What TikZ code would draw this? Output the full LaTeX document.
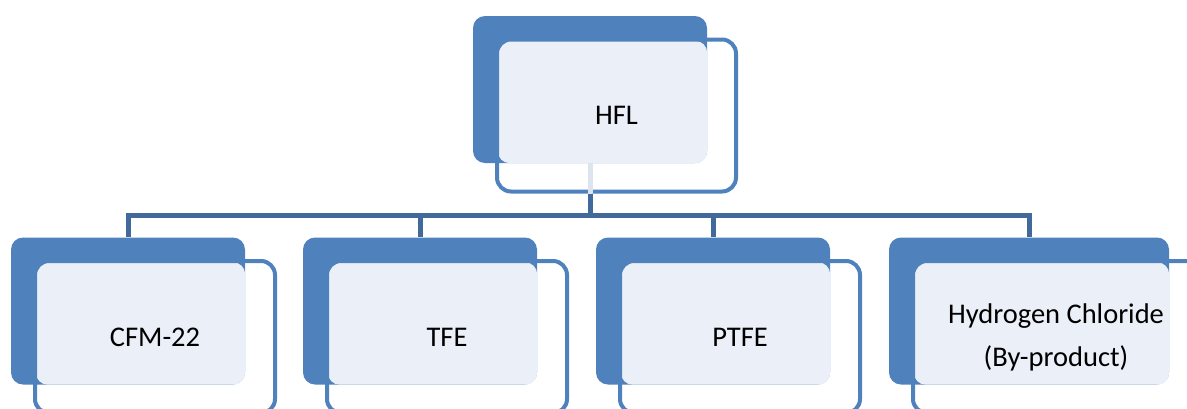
\documentclass[tikz,border=0pt]{standalone}
\usepackage{fontspec}
\setmainfont{Carlito}
\usetikzlibrary{positioning}

\definecolor{backblue}{HTML}{4F81BD}
\definecolor{paleblue}{HTML}{EBF0F8}
\definecolor{linkblue}{HTML}{41699C}
\definecolor{hiddenlink}{HTML}{DCE4EF}

\tikzset{
  backbox/.style={rectangle, rounded corners=12pt, fill=backblue, inner sep=0pt,
    minimum width=234pt, minimum height=147pt},
  frontbox/.style={rectangle, rounded corners=14pt, draw=backblue, line width=4pt,
    inner sep=0pt, minimum width=240pt, minimum height=152pt, align=center,
    font=\fontsize{28.5}{43}\selectfont},
  palefill/.style={fill=paleblue, rounded corners=12pt},
  link/.style={draw=linkblue, line width=5pt},
  hidden link/.style={draw=hiddenlink, line width=5pt},
}

\begin{document}
\begin{tikzpicture}[x=1pt,y=-1pt]
  \useasboundingbox (0,0) rectangle (1187,408);
  \clip (0,0) rectangle (1187,408);

  % Back boxes
  \node[backbox] (hflback) at (590,89.5) {};
  \node[backbox] (cfmback) at (128,311) {};
  \node[backbox] (tfeback) at (420,311) {};
  \node[backbox] (ptfeback) at (713,311) {};
  \node[backbox, minimum width=280pt] (hclback) at (1029,311) {};

  % Pale part where the boxes overlap
  \foreach \b in {hflback,cfmback,tfeback,ptfeback,hclback}
    \fill[palefill] ([shift={(25,25)}]\b.north west) rectangle (\b.south east);

  % Front boxes
  \node[frontbox, minimum width=239pt] (hfl) at ([shift={(26.5,26)}]hflback.center) {HFL};
  \node[frontbox] (cfm) at ([shift={(27,26)}]cfmback.center) {CFM-22};
  \node[frontbox] (tfe) at ([shift={(27,26)}]tfeback.center) {TFE};
  \node[frontbox] (ptfe) at ([shift={(27,26)}]ptfeback.center) {PTFE};
  \node[frontbox, minimum width=286pt] (hcl) at ([shift={(27,26)}]hclback.center)
    {Hydrogen Chloride\\(By-product)};

  % Connectors
  \draw[hidden link] (hflback.south) -- (hflback.south |- hfl.south);
  \foreach \c in {cfmback,tfeback,ptfeback,hclback}
    \draw[link] (hflback.south |- hfl.south) -- ++(0,22) -| (\c.north);
\end{tikzpicture}
\end{document}
